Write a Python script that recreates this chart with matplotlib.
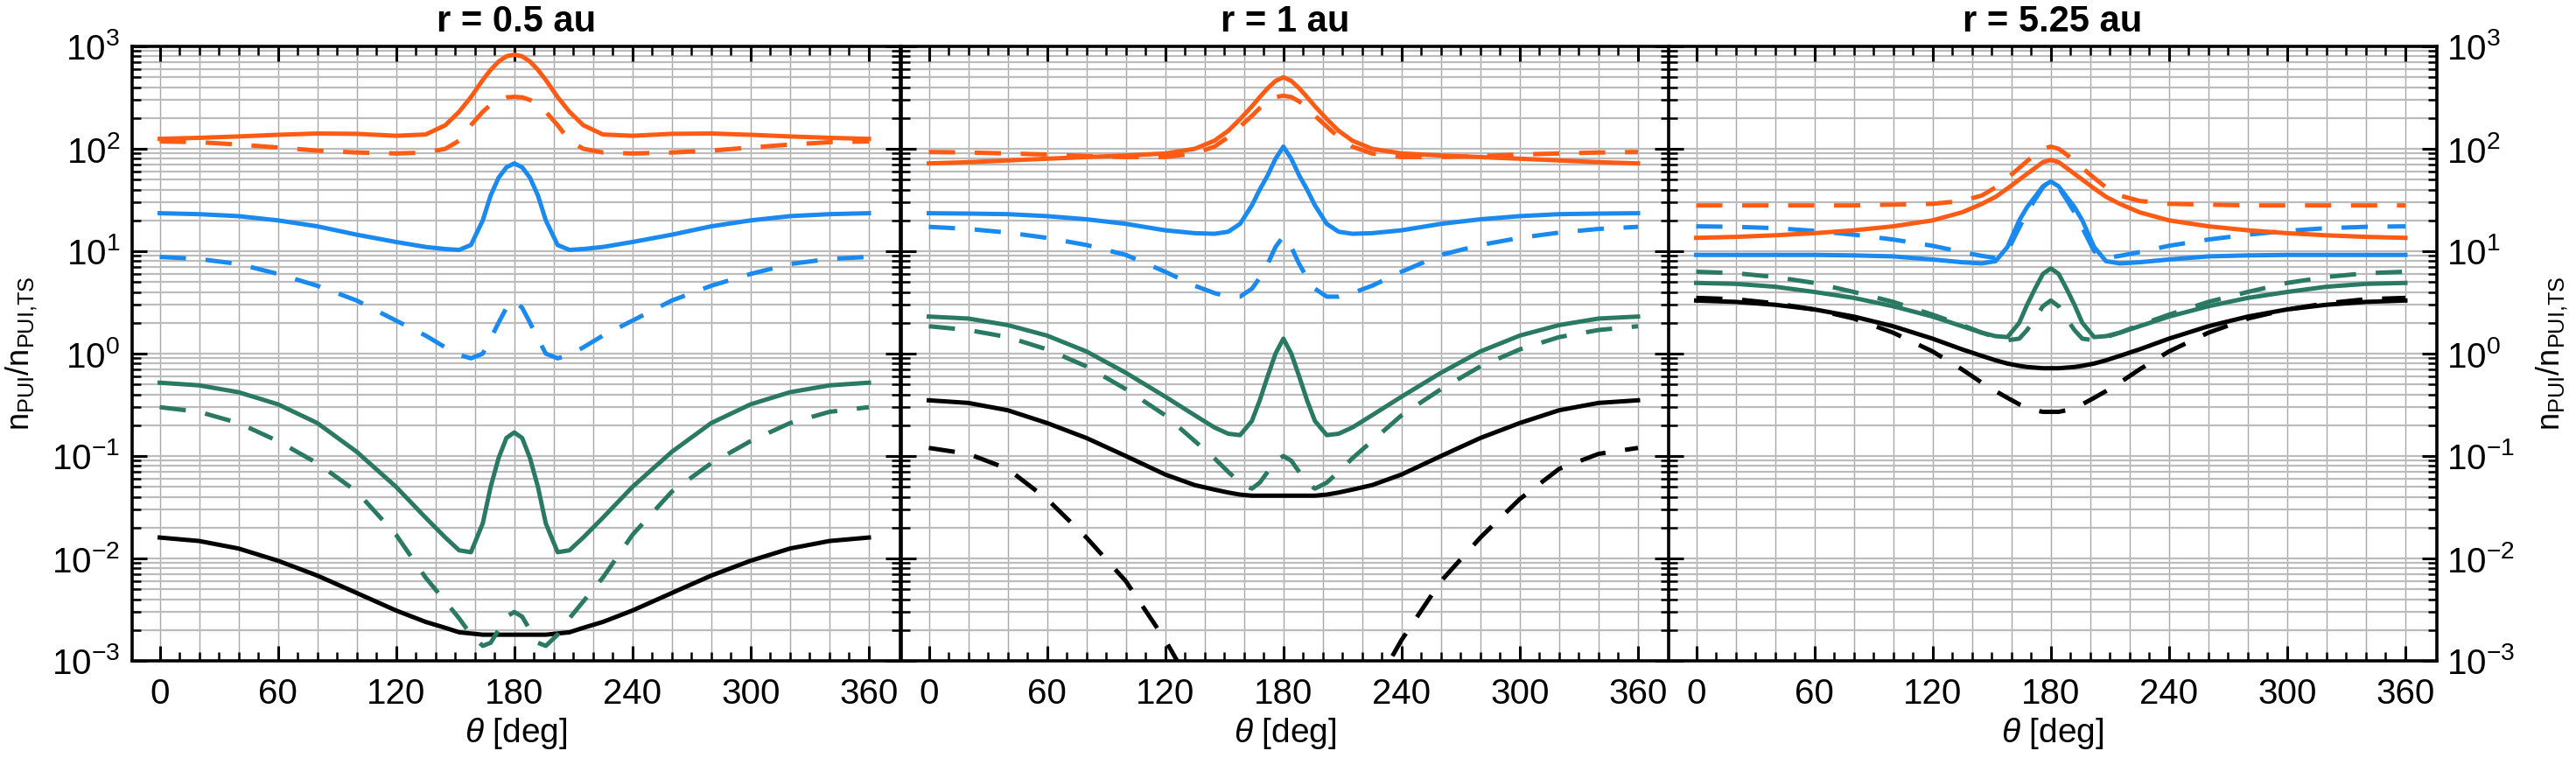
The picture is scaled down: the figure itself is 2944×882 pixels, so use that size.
import matplotlib
matplotlib.use("Agg")
import matplotlib.pyplot as plt
from matplotlib.ticker import LogLocator, FixedLocator, NullFormatter, LogFormatterMathtext

plt.rcParams["font.family"] = ["Liberation Sans", "DejaVu Sans"]
plt.rcParams["mathtext.fontset"] = "custom"
plt.rcParams["mathtext.rm"] = "Liberation Sans"
plt.rcParams["mathtext.it"] = "Liberation Sans:italic"
plt.rcParams["mathtext.bf"] = "Liberation Sans:bold"

# polar angle samples (deg), shared by every curve
theta = [0, 20, 40, 60, 80, 100, 120, 135, 145, 152, 158, 164, 168, 172, 176, 180,
         184, 188, 192, 196, 202, 208, 215, 225, 240, 260, 280, 300, 320, 340, 360]

titles = ["r = 0.5 au", "r = 1 au", "r = 5.25 au"]

# ---- r = 0.5 au ----
p1_orange_solid = [125, 128, 132, 137, 141, 140, 134, 138, 170, 230, 320, 470, 590, 710, 800, 830,
                   800, 710, 590, 470, 320, 230, 170, 138, 134, 140, 141, 137, 132, 128, 125]
p1_orange_dash = [118, 116, 110, 103, 96, 92, 90, 92, 100, 120, 170, 230, 270, 300, 318, 322,
                  318, 300, 270, 230, 170, 120, 100, 92, 90, 92, 96, 103, 110, 116, 118]
p1_blue_solid = [23.5, 23, 22, 20, 17.5, 14.5, 12.3, 11, 10.5, 10.3, 11.5, 20, 35, 52, 66, 72,
                 66, 52, 35, 20, 11.5, 10.3, 10.5, 11, 12.3, 14.5, 17.5, 20, 22, 23, 23.5]
p1_blue_dash = [8.8, 8.4, 7.5, 6.0, 4.6, 3.3, 2.1, 1.5, 1.15, 0.97, 0.9, 1.0, 1.4, 2.0, 2.8, 3.3,
                2.8, 2.0, 1.4, 1.0, 0.9, 0.97, 1.15, 1.5, 2.1, 3.3, 4.6, 6.0, 7.5, 8.4, 8.8]
p1_green_solid = [0.52, 0.49, 0.42, 0.32, 0.21, 0.11, 0.05, 0.025, 0.016, 0.012, 0.0115, 0.022, 0.05, 0.095, 0.15, 0.17,
                  0.15, 0.095, 0.05, 0.022, 0.0115, 0.012, 0.016, 0.025, 0.05, 0.11, 0.21, 0.32, 0.42, 0.49, 0.52]
p1_green_dash = [0.30, 0.27, 0.21, 0.14, 0.085, 0.045, 0.017, 0.0065, 0.0038, 0.0026, 0.0018, 0.0014, 0.0015, 0.002, 0.0027, 0.003,
                 0.0027, 0.002, 0.0015, 0.0014, 0.0018, 0.0026, 0.0038, 0.0065, 0.017, 0.045, 0.085, 0.14, 0.21, 0.27, 0.30]
p1_black_solid = [0.016, 0.0148, 0.0125, 0.0095, 0.0068, 0.0046, 0.0031, 0.0024, 0.0021, 0.0019, 0.00185, 0.0018, 0.0018, 0.0018, 0.0018, 0.0018,
                  0.0018, 0.0018, 0.0018, 0.0018, 0.00185, 0.0019, 0.0021, 0.0024, 0.0031, 0.0046, 0.0068, 0.0095, 0.0125, 0.0148, 0.016]

# ---- r = 1 au ----
p2_orange_solid = [72, 74, 77, 80, 83, 86, 90, 100, 120, 150, 195, 260, 320, 390, 460, 500,
                   460, 390, 320, 260, 195, 150, 120, 100, 90, 86, 83, 80, 77, 74, 72]
p2_orange_dash = [93, 92, 90, 88, 85, 83, 83, 90, 105, 130, 165, 210, 250, 290, 320, 330,
                  320, 290, 250, 210, 165, 130, 105, 90, 83, 83, 85, 88, 90, 92, 93]
p2_blue_solid = [23.5, 23.3, 23, 22, 20.5, 18.5, 16, 15, 14.8, 15.5, 18.5, 28, 40, 55, 80, 105,
                 80, 55, 40, 28, 18.5, 15.5, 14.8, 15, 16, 18.5, 20.5, 22, 23, 23.3, 23.5]
p2_blue_dash = [17.3, 16.5, 15.2, 13.5, 11.5, 9.2, 6.3, 4.6, 3.9, 3.6, 3.6, 4.3, 5.5, 7.5, 11, 14,
                11, 7.5, 5.5, 4.3, 3.6, 3.6, 3.9, 4.6, 6.3, 9.2, 11.5, 13.5, 15.2, 16.5, 17.3]
p2_green_solid = [2.3, 2.2, 1.9, 1.5, 1.05, 0.65, 0.38, 0.25, 0.19, 0.165, 0.16, 0.22, 0.35, 0.6, 1.0, 1.4,
                  1.0, 0.6, 0.35, 0.22, 0.16, 0.165, 0.19, 0.25, 0.38, 0.65, 1.05, 1.5, 1.9, 2.2, 2.3]
p2_green_dash = [1.85, 1.7, 1.45, 1.1, 0.75, 0.45, 0.25, 0.14, 0.095, 0.07, 0.055, 0.048, 0.055, 0.07, 0.09, 0.10,
                 0.09, 0.07, 0.055, 0.048, 0.055, 0.07, 0.095, 0.14, 0.25, 0.45, 0.75, 1.1, 1.45, 1.7, 1.85]
p2_black_solid = [0.35, 0.33, 0.28, 0.21, 0.15, 0.10, 0.066, 0.052, 0.047, 0.044, 0.042, 0.041, 0.041, 0.041, 0.041, 0.041,
                  0.041, 0.041, 0.041, 0.041, 0.042, 0.044, 0.047, 0.052, 0.066, 0.10, 0.15, 0.21, 0.28, 0.33, 0.35]
p2_black_dash = [0.12, 0.105, 0.075, 0.038, 0.016, 0.006, 0.0016, 0.0005, 0.00025, 0.00015, 0.0001, 8e-05, 7e-05, 6e-05, 6e-05, 6e-05,
                 6e-05, 6e-05, 6e-05, 7e-05, 0.0001, 0.00015, 0.00025, 0.0005, 0.0016, 0.006, 0.016, 0.038, 0.075, 0.105, 0.12]

# ---- r = 5.25 au ----
p3_orange_solid = [13.5, 13.8, 14.3, 15, 16, 17.5, 20, 24, 29, 34, 41, 50, 57, 65, 74, 78,
                   74, 65, 57, 50, 41, 34, 29, 24, 20, 17.5, 16, 15, 14.3, 13.8, 13.5]
p3_orange_dash = [28, 28, 28, 28, 28, 28.5, 29, 31, 35, 42, 52, 65, 76, 88, 100, 105,
                  100, 88, 76, 65, 52, 42, 35, 31, 29, 28.5, 28, 28, 28, 28, 28]
p3_blue_solid = [9.2, 9.2, 9.2, 9.2, 9.1, 8.9, 8.3, 7.8, 7.6, 8.0, 11, 20, 27, 34, 43, 48,
                 43, 34, 27, 20, 11, 8.0, 7.6, 7.8, 8.3, 8.9, 9.1, 9.2, 9.2, 9.2, 9.2]
p3_blue_dash = [17.5, 17.3, 16.8, 15.8, 14.5, 13, 11.3, 9.8, 9.0, 8.6, 10, 17, 24, 32, 42, 50,
                42, 32, 24, 17, 10, 8.6, 9.0, 9.8, 11.3, 13, 14.5, 15.8, 16.8, 17.3, 17.5]
p3_green_solid = [4.9, 4.8, 4.5, 4.0, 3.5, 2.9, 2.3, 1.85, 1.6, 1.48, 1.45, 2.0, 3.0, 4.3, 6.0, 6.8,
                  6.0, 4.3, 3.0, 2.0, 1.45, 1.48, 1.6, 1.85, 2.3, 2.9, 3.5, 4.0, 4.5, 4.8, 4.9]
p3_green_dash = [6.3, 6.1, 5.6, 4.9, 4.0, 3.2, 2.4, 1.9, 1.6, 1.45, 1.35, 1.4, 1.7, 2.2, 2.9, 3.3,
                 2.9, 2.2, 1.7, 1.4, 1.35, 1.45, 1.6, 1.9, 2.4, 3.2, 4.0, 4.9, 5.6, 6.1, 6.3]
p3_black_solid = [3.3, 3.2, 3.0, 2.7, 2.3, 1.85, 1.4, 1.1, 0.95, 0.86, 0.8, 0.76, 0.74, 0.73, 0.72, 0.72,
                  0.72, 0.73, 0.74, 0.76, 0.8, 0.86, 0.95, 1.1, 1.4, 1.85, 2.3, 2.7, 3.0, 3.2, 3.3]
p3_black_dash = [3.5, 3.4, 3.1, 2.7, 2.2, 1.6, 1.05, 0.7, 0.52, 0.43, 0.37, 0.32, 0.30, 0.28, 0.27, 0.27,
                 0.27, 0.28, 0.30, 0.32, 0.37, 0.43, 0.52, 0.7, 1.05, 1.6, 2.2, 2.7, 3.1, 3.4, 3.5]

ORANGE = "#ff5b14"
BLUE = "#1a8af0"
GREEN = "#2a7a63"
BLACK = "#000000"

panels = [
    [(p1_black_solid, BLACK, "-"),
     (p1_green_dash, GREEN, "--"), (p1_green_solid, GREEN, "-"),
     (p1_blue_dash, BLUE, "--"), (p1_blue_solid, BLUE, "-"),
     (p1_orange_dash, ORANGE, "--"), (p1_orange_solid, ORANGE, "-")],
    [(p2_black_dash, BLACK, "--"), (p2_black_solid, BLACK, "-"),
     (p2_green_dash, GREEN, "--"), (p2_green_solid, GREEN, "-"),
     (p2_blue_dash, BLUE, "--"), (p2_blue_solid, BLUE, "-"),
     (p2_orange_dash, ORANGE, "--"), (p2_orange_solid, ORANGE, "-")],
    [(p3_black_dash, BLACK, "--"), (p3_black_solid, BLACK, "-"),
     (p3_green_dash, GREEN, "--"), (p3_green_solid, GREEN, "-"),
     (p3_blue_dash, BLUE, "--"), (p3_blue_solid, BLUE, "-"),
     (p3_orange_dash, ORANGE, "--"), (p3_orange_solid, ORANGE, "-")],
]

W, H = 2944, 882
fig = plt.figure(figsize=(W / 100, H / 100), dpi=100)

lefts = [151, 1030, 1907]
ax_w = 878
top, bottom = 53, 755
ylabel = r"n$_{\mathrm{PUI}}$/n$_{\mathrm{PUI{,}TS}}$"

for i, (left, series) in enumerate(zip(lefts, panels)):
    ax = fig.add_axes([left / W, (H - bottom) / H, ax_w / W, (bottom - top) / H])
    ax.set_yscale("log")
    ax.set_xlim(-14, 376)
    ax.set_ylim(1e-3, 1e3)

    # grid
    for g in range(0, 361, 20):
        ax.axvline(g, color="#a8a8a8", lw=1.0, zorder=0)
    for dec in range(-3, 3):
        for m in range(1, 10):
            ax.axhline(m * 10.0 ** dec, color="#bcbcbc", lw=1.6, zorder=0)

    for vals, col, ls in series:
        if ls == "--":
            ax.plot(theta, vals, color=col, lw=3.6, ls=(0, (6, 4.5)), zorder=3)
        else:
            ax.plot(theta, vals, color=col, lw=3.6, zorder=3)

    ax.set_xticks(range(0, 361, 60))
    ax.xaxis.set_minor_locator(FixedLocator(range(0, 361, 10)))
    ax.yaxis.set_major_locator(LogLocator(base=10, numticks=20))
    ax.yaxis.set_minor_locator(LogLocator(base=10, subs=range(2, 10), numticks=20))
    ax.yaxis.set_major_formatter(LogFormatterMathtext())
    ax.yaxis.set_minor_formatter(NullFormatter())

    ax.tick_params(which="both", direction="in", top=True, right=True,
                   labelsize=29, width=2.2)
    ax.tick_params(which="major", length=12)
    ax.tick_params(which="minor", length=7, width=1.8)
    ax.tick_params(axis="x", pad=14)
    for sp in ax.spines.values():
        sp.set_linewidth(2.6)

    if i == 0:
        ax.tick_params(axis="y", labelleft=True, labelright=False, pad=10)
        ax.set_ylabel(ylabel, fontsize=26, labelpad=10)
    elif i == 1:
        ax.tick_params(axis="y", labelleft=False, labelright=False)
    else:
        ax.tick_params(axis="y", labelleft=False, labelright=True, pad=8)
        ax.yaxis.set_label_position("right")
        ax.set_ylabel(ylabel, fontsize=26, labelpad=16)

    ax.set_xlabel(r"$\mathit{\theta}$ [deg]", fontsize=28, labelpad=4)
    ax.set_title(titles[i], fontsize=30, fontweight="bold", pad=12)

fig.savefig("out.png", dpi=100)
